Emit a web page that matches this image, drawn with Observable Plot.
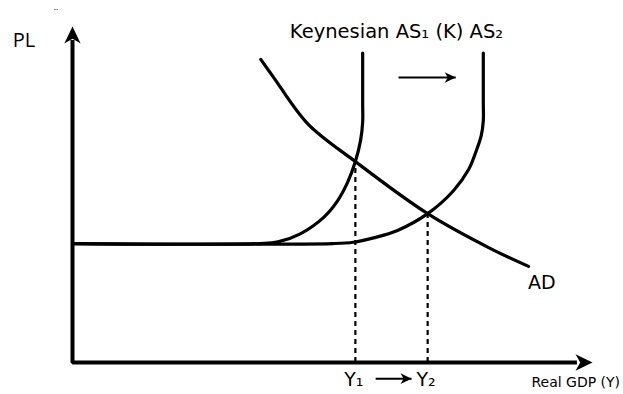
<!DOCTYPE html>
<html>
<head>
<meta charset="utf-8">
<script src="https://cdn.jsdelivr.net/npm/d3@7"></script>
<script src="https://cdn.jsdelivr.net/npm/@observablehq/plot@0.6"></script>
<style>
  html, body { margin: 0; padding: 0; background: #fff; }
  #chart svg { overflow: visible; display: block; }
</style>
</head>
<body>
<div id="chart"></div>
<script>
// ---- data (abstract units, 0–100 on both axes) ----
const axisPath = [ {x: 0, y: 96}, {x: 0, y: 0}, {x: 97, y: 0} ];
const axisTips = [ {x: 0, y: 100, rotate: 0}, {x: 100, y: 0, rotate: 90} ];

const as1 = [
  {x: 0, y: 35.4}, {x: 36, y: 35.4}, {x: 39.5, y: 35.9}, {x: 43.8, y: 38.3},
  {x: 48.3, y: 43.2}, {x: 51, y: 48.2}, {x: 52.9, y: 53.6}, {x: 54.4, y: 59.8},
  {x: 55.4, y: 66.1}, {x: 55.8, y: 71.5}, {x: 55.8, y: 77}, {x: 55.8, y: 84},
  {x: 55.8, y: 92.1}
];
const as2 = [
  {x: 0, y: 35.4}, {x: 50, y: 35.4}, {x: 54, y: 35.8}, {x: 57.9, y: 37.1},
  {x: 62.5, y: 39.3}, {x: 68.3, y: 44.3}, {x: 73.3, y: 51.2}, {x: 76.2, y: 57.5},
  {x: 77.6, y: 62.8}, {x: 78.6, y: 67.5}, {x: 79, y: 72}, {x: 79, y: 77},
  {x: 79, y: 84}, {x: 79, y: 92.1}
];
const ad = [
  {x: 36.2, y: 90.2}, {x: 38.7, y: 84.8}, {x: 45.2, y: 71.1}, {x: 54.4, y: 59.8},
  {x: 68.3, y: 44.3}, {x: 80.4, y: 33.9}, {x: 87.7, y: 28.6}
];
const equilibria = [ {label: "Y₁", x: 54.4, y: 59.8}, {label: "Y₂", x: 68.3, y: 44.3} ];
const shiftArrows = [
  {x1: 62.7, x2: 73.7, y: 84.8},
  {x1: 58.3, x2: 65.2, y: -4.8}
];
const labels = [
  {text: "PL", x: -11.5, y: 94, font: "Open Sans", size: 20, anchor: "start"},
  {text: "¨", x: -3.2, y: 102.5, font: "Open Sans", size: 12, anchor: "middle"},
  {text: "Keynesian AS₁ (K) AS₂", x: 41.8, y: 96.6, font: "DejaVu Sans", size: 19.5, anchor: "start"},
  {text: "AD", x: 87.6, y: 21.8, font: "DejaVu Sans", size: 19, anchor: "start"},
  {text: "Real GDP (Y)", x: 105.3, y: -7.4, font: "DejaVu Sans", size: 14, anchor: "end"}
];

// filled stealth arrowhead, tip at the origin, pointing up
const stealth = {
  draw(ctx, size) {
    const s = Math.sqrt(size / Math.PI);
    ctx.moveTo(0, 0);
    ctx.lineTo(0.48 * s, s);
    ctx.lineTo(0, 0.72 * s);
    ctx.lineTo(-0.48 * s, s);
    ctx.closePath();
  }
};

const chart = Plot.plot({
  width: 623,
  height: 394,
  marginLeft: 72,
  marginRight: 31,
  marginTop: 26,
  marginBottom: 32,
  x: {domain: [0, 100], axis: null},
  y: {domain: [0, 100], axis: null},
  style: {background: "#fff", overflow: "visible"},
  marks: [
    // axes
    Plot.line(axisPath, {x: "x", y: "y", stroke: "#000", strokeWidth: 4, strokeLinejoin: "miter", strokeLinecap: "butt"}),
    Plot.dot(axisTips, {x: "x", y: "y", rotate: "rotate", r: 17, symbol: stealth, fill: "#000", stroke: null}),
    // dashed drop lines
    Plot.ruleX(equilibria, {x: "x", y1: 0, y2: "y", stroke: "#000", strokeWidth: 2.2, strokeDasharray: "5,4"}),
    // curves
    Plot.line(as1, {x: "x", y: "y", curve: "catmull-rom", stroke: "#000", strokeWidth: 3.2}),
    Plot.line(as2, {x: "x", y: "y", curve: "catmull-rom", stroke: "#000", strokeWidth: 3.2}),
    Plot.line(ad, {x: "x", y: "y", curve: "catmull-rom", stroke: "#000", strokeWidth: 3.2}),
    // shift arrows
    Plot.link(shiftArrows, {x1: "x1", x2: "x2", y1: "y", y2: "y", stroke: "#000", strokeWidth: 2}),
    Plot.dot(shiftArrows, {x: "x2", y: "y", rotate: 90, r: 11, symbol: stealth, fill: "#000", stroke: null}),
    // labels
    Plot.text(equilibria, {x: d => d.x - 0.3, y: -6.9, text: "label", fontFamily: "DejaVu Sans", fontSize: 19, textAnchor: "middle", lineAnchor: "bottom", fill: "#000"}),
    ...labels.map(l => Plot.text([l], {x: "x", y: "y", text: "text", fontFamily: l.font, fontSize: l.size, textAnchor: l.anchor, lineAnchor: "bottom", fill: "#000"}))
  ]
});
document.getElementById("chart").appendChild(chart);
</script>
</body>
</html>
